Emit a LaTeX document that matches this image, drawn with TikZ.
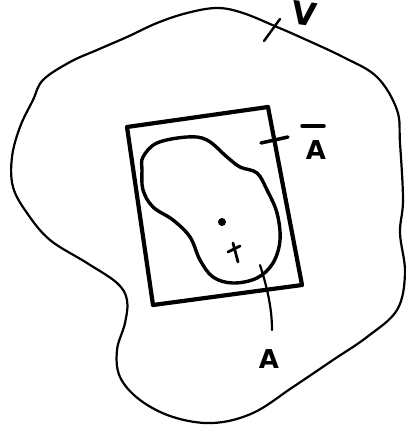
\documentclass[tikz,border=0pt]{standalone}
\usepackage{fontspec}
\setsansfont{DejaVu Sans}
\usepackage{tikz}

\begin{document}
\begin{tikzpicture}[x=1pt, y=-1pt, line cap=round, line join=round,
		sketch/.style={font=\sffamily\bfseries\fontsize{26}{26}\selectfont, inner sep=0pt}]
		
		\useasboundingbox (0,0) rectangle (406,437);
		
		% --- outer region V ---
		\draw[line width=2.2pt] plot[smooth cycle, tension=0.6] coordinates {
			(70,62) (43,80) (33,100) (20,127) (12,157) (13,187) (27,213) (50,240)
			(87,263) (117,283) (127,300) (125,323) (117,350) (120,377) (140,400)
			(173,417) (213,423) (253,413) (293,387) (333,360) (367,337) (397,310)
			(405,273) (400,233) (403,200) (400,143) (397,110) (377,77) (343,57)
			(300,37) (277,27) (243,13) (217,8) (187,13) (157,23) (127,37) (97,50)};
		\coordinate (tickV) at (264,41);
		\node[sketch, rotate=-8, font=\sffamily\bfseries\fontsize{32}{32}\selectfont] (labV) at (304,14) {V};
		\draw[line width=2.4pt] (tickV) -- (280,19);
		
		% --- box Abar ---
		\draw[line width=4.2pt] (127,127) -- (268,107) -- (302,285) -- (153,305) -- cycle;
		\coordinate (tickAb) at (261,143);
		\node[sketch] (labAb) at (316,150) {A};
		\draw[line width=3.5pt] (tickAb) -- (288,137);
		\draw[line width=3.5pt] (302,126) -- (324,126); % bar over A
		
		% --- inner region A ---
		\draw[line width=3.4pt] plot[smooth cycle, tension=0.6] coordinates {
			(143,157) (157,143) (187,137) (207,140) (227,157) (240,167) (257,173)
			(267,190) (277,213) (280,240) (273,263) (257,278) (233,283) (213,277)
			(200,260) (190,237) (173,220) (153,207) (143,190) (142,170)};
		
		% centroid and cross
		\fill (222,222) circle (4pt);
		\draw[line width=2.8pt] (233,243) -- (238,262);
		\draw[line width=2.8pt] (228,252) -- (240,246);
		
		% --- label A ---
		\coordinate (leadA) at (260,265);
		\node[sketch] (labA) at (269,359) {A};
		\draw[line width=2.2pt] (leadA) .. controls (268,290) and (272,310) .. (272,330);
		
	\end{tikzpicture}
\end{document}
